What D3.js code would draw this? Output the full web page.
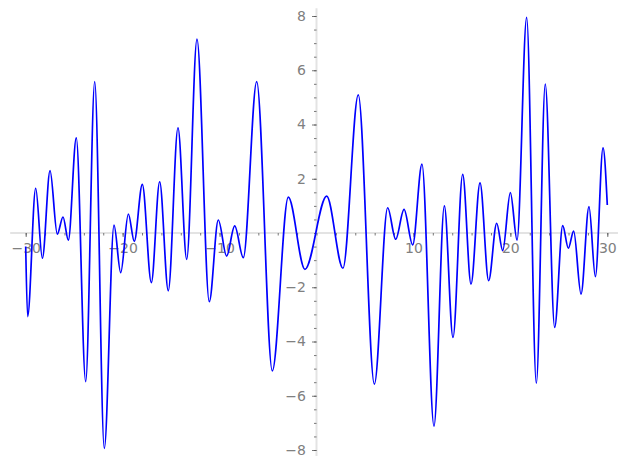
<!DOCTYPE html>
<html>
<head>
<meta charset="utf-8">
<script src="https://cdn.jsdelivr.net/npm/d3@7"></script>
<style>
  html, body { margin: 0; padding: 0; background: #fff; }
  svg { display: block; }
</style>
</head>
<body>
<div id="chart"></div>
<script>
// curve turning points (x, y)
const curveX = [-30, -29.8, -28.97, -28.28, -27.49, -26.74, -26.15, -25.6, -24.78, -23.81,
  -22.88, -21.89, -20.89, -20.2, -19.41, -18.8, -17.97, -17.04, -16.18, -15.29,
  -14.29, -13.39, -12.33, -11.06, -10.13, -9.27, -8.44, -7.55, -6.17, -4.56,
  -2.91, -1.19, 1.05, 2.73, 4.31, 5.97, 7.34, 8.17, 9.03, 9.92,
  10.88, 12.12, 13.19, 14.08, 15.08, 15.94, 16.87, 17.76, 18.59, 19.21,
  20.0, 20.69, 21.68, 22.68, 23.6, 24.57, 25.4, 25.98, 26.53, 27.29,
  28.11, 28.77, 29.56, 30];
const curveY = [-0.5, -3.08, 1.65, -0.93, 2.30, -0.04, 0.59, -0.26, 3.51, -5.48,
  5.58, -7.94, 0.29, -1.46, 0.70, -0.31, 1.79, -1.83, 1.89, -2.13,
  3.88, -0.97, 7.15, -2.53, 0.48, -0.85, 0.26, -0.91, 5.58, -5.08,
  1.32, -1.34, 1.36, -1.30, 5.09, -5.57, 0.93, -0.23, 0.87, -0.44,
  2.54, -7.12, 1.00, -3.85, 2.16, -1.88, 1.85, -1.76, 0.36, -0.65,
  1.49, -0.26, 7.95, -5.54, 5.49, -3.48, 0.27, -0.56, 0.07, -2.25,
  0.97, -1.61, 3.14, 1.03];

const xMajor = [-30, -20, -10, 10, 20, 30];
const xMinor = d3.range(-30, 31, 2);
const yMajor = [-8, -6, -4, -2, 2, 4, 6, 8];
const yMinor = d3.range(-8, 8.01, 0.5);

const width = 627, height = 468;

const x = d3.scaleLinear().domain([-30, 30]).range([25.7, 607.3]);
const y = d3.scaleLinear().domain([-8, 8]).range([450, 16]);

const svg = d3.select("#chart").append("svg")
  .attr("width", width)
  .attr("height", height);

const x0 = x(0), y0 = y(0);

// spines through the origin
svg.append("line")
  .attr("x1", x(-31.6)).attr("x2", x(31.1))
  .attr("y1", y0).attr("y2", y0)
  .attr("stroke", "#e3e3e3").attr("stroke-width", 2);
svg.append("line")
  .attr("x1", x0).attr("x2", x0)
  .attr("y1", y(8.29)).attr("y2", y(-8.22))
  .attr("stroke", "#e3e3e3").attr("stroke-width", 2);

const fmt = d3.format("d");

function styleAxis(g) {
  g.select(".domain").remove();
  g.selectAll(".tick line").attr("stroke", "#555").attr("stroke-width", 0.8);
  g.selectAll(".tick text")
    .attr("fill", "#808080")
    .style("font-family", "'DejaVu Sans', sans-serif")
    .style("font-size", "14px");
}

// x axis minor + major
svg.append("g")
  .attr("transform", `translate(0,${y0})`)
  .call(d3.axisBottom(x).tickValues(xMinor).tickSize(2.5).tickFormat(""))
  .call(styleAxis);
svg.append("g")
  .attr("transform", `translate(0,${y0})`)
  .call(d3.axisBottom(x).tickValues(xMajor).tickSize(4).tickPadding(6).tickFormat(fmt))
  .call(styleAxis);

// y axis minor + major
svg.append("g")
  .attr("transform", `translate(${x0},0)`)
  .call(d3.axisLeft(y).tickValues(yMinor).tickSize(2.5).tickFormat(""))
  .call(styleAxis);
svg.append("g")
  .attr("transform", `translate(${x0},0)`)
  .call(d3.axisLeft(y).tickValues(yMajor).tickSize(4.5).tickPadding(6).tickFormat(fmt))
  .call(styleAxis);

// the curve
const pts = curveX.map((d, i) => [d, curveY[i]]);
svg.append("path")
  .datum(pts)
  .attr("fill", "none")
  .attr("stroke", "#0000ff")
  .attr("stroke-width", 1.7)
  .attr("d", d3.line()
    .x(d => x(d[0]))
    .y(d => y(d[1]))
    .curve(d3.curveMonotoneX));
</script>
</body>
</html>
